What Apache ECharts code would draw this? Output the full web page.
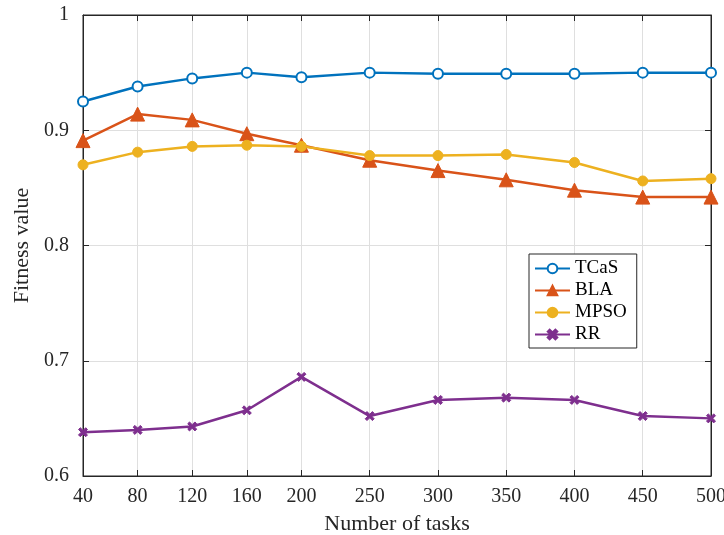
<!DOCTYPE html>
<html>
<head>
<meta charset="utf-8">
<script src="https://cdn.jsdelivr.net/npm/echarts@6/dist/echarts.min.js"></script>
<style>
  html, body { margin: 0; padding: 0; background: #fff; }
  #main { width: 724px; height: 535px; }
</style>
</head>
<body>
<div id="main"></div>
<script>
// number of tasks (x positions)
var tasks = [40, 80, 120, 160, 200, 250, 300, 350, 400, 450, 500];
var yTicks = [0.6, 0.7, 0.8, 0.9, 1];

// fitness value per algorithm
var tcas = [0.925, 0.938, 0.945, 0.950, 0.946, 0.950, 0.949, 0.949, 0.949, 0.950, 0.950];
var bla  = [0.891, 0.914, 0.909, 0.897, 0.887, 0.874, 0.865, 0.857, 0.848, 0.842, 0.842];
var mpso = [0.870, 0.881, 0.886, 0.887, 0.886, 0.878, 0.878, 0.879, 0.872, 0.856, 0.858];
var rr   = [0.638, 0.640, 0.643, 0.657, 0.686, 0.652, 0.666, 0.668, 0.666, 0.652, 0.650];

function pairs(ys) {
  return tasks.map(function (x, i) { return [x, ys[i]]; });
}

var font = '"Liberation Serif", "DejaVu Serif", serif';
var xMark = 'path://M0,2L2,0L5,3L8,0L10,2L7,5L10,8L8,10L5,7L2,10L0,8L3,5Z';

function line(name, color, data, symbol, size, bw) {
  return {
    name: name,
    type: 'line',
    data: pairs(data),
    symbol: symbol,
    symbolSize: size,
    showAllSymbol: true,
    lineStyle: { color: color, width: 2.5 },
    itemStyle: { color: color, borderColor: color, borderWidth: bw },
    emphasis: { disabled: true },
    z: 3
  };
}

var chart = echarts.init(document.getElementById('main'));
chart.setOption({
  animation: false,
  backgroundColor: '#fff',
  textStyle: { fontFamily: font },
  grid: {
    left: 83, right: 13, top: 15, bottom: 59,
    containLabel: false, outerBoundsMode: 'none',
    show: true, borderColor: '#262626', borderWidth: 1
  },
  legend: {
    orient: 'vertical',
    left: 529,
    top: 254,
    itemWidth: 35,
    itemHeight: 12,
    itemGap: 3,
    padding: [5, 10, 4, 5],
    borderColor: '#262626',
    borderWidth: 1,
    backgroundColor: '#fff',
    textStyle: { fontFamily: font, fontSize: 19, color: '#000' },
    data: ['TCaS', 'BLA', 'MPSO', 'RR']
  },
  xAxis: [{
    type: 'value',
    min: 40,
    max: 500,
    name: 'Number of tasks',
    nameLocation: 'middle',
    nameGap: 37,
    nameTextStyle: { fontFamily: font, fontSize: 22, color: '#262626' },
    axisLine: { lineStyle: { color: '#262626' } },
    axisTick: { inside: true, length: 6, customValues: tasks, lineStyle: { color: '#262626' } },
    axisLabel: { customValues: tasks, fontFamily: font, fontSize: 20, color: '#262626', margin: 11 },
    splitLine: { show: true, lineStyle: { color: '#dfdfdf' } }
  }, {
    type: 'value',
    position: 'top',
    min: 40,
    max: 500,
    axisLine: { show: true, lineStyle: { color: '#262626' } },
    axisTick: { inside: true, length: 6, customValues: tasks, lineStyle: { color: '#262626' } },
    axisLabel: { show: false },
    splitLine: { show: false }
  }],
  yAxis: [{
    type: 'value',
    min: 0.6,
    max: 1,
    interval: 0.1,
    name: 'Fitness value',
    nameLocation: 'middle',
    nameGap: 48,
    nameTextStyle: { fontFamily: font, fontSize: 22, color: '#262626' },
    axisLine: { show: true, lineStyle: { color: '#262626' } },
    axisTick: { show: true, inside: true, length: 6, lineStyle: { color: '#262626' } },
    axisLabel: {
      fontFamily: font, fontSize: 20, color: '#262626', margin: 14,
      formatter: function (v) { return v === 1 ? '1' : v.toFixed(1); }
    },
    splitLine: { show: true, lineStyle: { color: '#dfdfdf' } }
  }, {
    type: 'value',
    position: 'right',
    min: 0.6,
    max: 1,
    interval: 0.1,
    axisLine: { show: true, lineStyle: { color: '#262626' } },
    axisTick: { show: true, inside: true, length: 6, lineStyle: { color: '#262626' } },
    axisLabel: { show: false },
    splitLine: { show: false }
  }],
  series: [
    line('TCaS', '#0072BD', tcas, 'emptyCircle', 10, 2.5),
    line('BLA', '#D95319', bla, 'triangle', 14, 1),
    line('MPSO', '#EDB120', mpso, 'circle', 10, 1),
    line('RR', '#7E2F8E', rr, xMark, 9, 1)
  ]
});
</script>
</body>
</html>
